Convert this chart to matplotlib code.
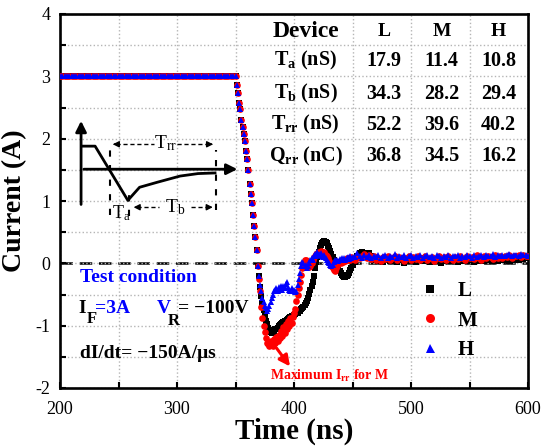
import numpy as np
import matplotlib
matplotlib.use('Agg')
import matplotlib.pyplot as plt
from matplotlib.ticker import MultipleLocator

plt.rcParams['font.family'] = ['Liberation Serif', 'DejaVu Serif']
plt.rcParams['mathtext.fontset'] = 'custom'
plt.rcParams['mathtext.default'] = 'regular'
plt.rcParams['axes.unicode_minus'] = False

# ---- data ----
flat_level = 3.0
t_flat = list(range(200, 350, 2))
t_fall = list(range(350, 451))
t_tail = list(range(452, 601, 2))

# common fall 350..368 ns
drop = [3.0, 2.86, 2.73, 2.57, 2.47, 2.3, 2.18, 2.07, 1.97, 1.80,
        1.67, 1.49, 1.28, 1.12, 0.96, 0.77, 0.6, 0.42, 0.22]

# 369..450 ns
L_fall = [-0.05, -0.2, -0.38, -0.52, -0.64, -0.75, -0.84, -0.92, -0.98, -1.03,
          -1.07, -1.10, -1.12, -1.10, -1.08, -1.06, -1.05, -1.03, -1.01, -0.99,
          -0.97, -0.96, -0.94, -0.93, -0.92, -0.91, -0.90, -0.88, -0.86, -0.85,
          -0.84, -0.83, -0.82, -0.80, -0.79, -0.77, -0.76, -0.74, -0.72, -0.70,
          -0.67, -0.64, -0.60, -0.55, -0.49, -0.43, -0.37, -0.3, -0.2, -0.08,
          0.02, 0.1, 0.18, 0.24, 0.29, 0.32, 0.35, 0.36, 0.35, 0.32,
          0.28, 0.24, 0.2, 0.15, 0.1, 0.05, 0.01, -0.03, -0.07, -0.1,
          -0.13, -0.16, -0.18, -0.2, -0.22, -0.22, -0.21, -0.18, -0.15, -0.11,
          -0.07, -0.03]
M_fall = [-0.05, -0.25, -0.45, -0.7, -0.88, -1.0, -1.1, -1.2, -1.28, -1.3,
          -1.32, -1.25, -1.3, -1.33, -1.22, -1.28, -1.18, -1.25, -1.15, -1.2,
          -1.08, -1.17, -1.02, -1.12, -0.98, -1.05, -0.92, -1.0, -0.88, -0.95,
          -0.86, -0.8, -0.74, -0.6, -0.5, -0.4, -0.3, -0.18, -0.08, 0.0,
          0.06, 0.05, 0.02, -0.03, -0.06, -0.04, 0.0, 0.06, 0.1, 0.12,
          0.15, 0.17, 0.18, 0.16, 0.19, 0.17, 0.15, 0.18, 0.14, 0.12,
          0.08, 0.04, 0.0, -0.04, -0.08, -0.1, -0.12, -0.08, -0.04, 0.0,
          0.03, 0.0, 0.05, 0.02, 0.06, 0.04, 0.08, 0.05, 0.09, 0.06,
          0.1, 0.07]
H_fall = [-0.05, -0.2, -0.35, -0.45, -0.55, -0.62, -0.68, -0.72, -0.76, -0.74,
          -0.68, -0.62, -0.56, -0.5, -0.45, -0.42, -0.4, -0.44, -0.38, -0.41,
          -0.36, -0.42, -0.37, -0.40, -0.33, -0.30, -0.38, -0.42, -0.44, -0.40,
          -0.45, -0.42, -0.46, -0.44, -0.35, -0.25, -0.15, -0.05, 0.02, 0.0,
          -0.05, -0.03, -0.08, -0.05, 0.0, 0.05, 0.08, 0.05, 0.12, 0.15,
          0.12, 0.18, 0.15, 0.14, 0.16, 0.12, 0.1, 0.14, 0.08, 0.05,
          0.02, 0.0, -0.03, -0.05, -0.02, 0.02, 0.05, 0.03, 0.06, 0.04,
          0.07, 0.05, 0.08, 0.06, 0.09, 0.05, 0.08, 0.1, 0.07, 0.12,
          0.08, 0.1]

# 452..600 ns
L_tail = [0.02, 0.12, 0.16, 0.18, 0.17, 0.15, 0.16, 0.12, 0.08, 0.05,
          0.03, 0.06, 0.02, 0.05, 0.07, 0.03, 0.04, 0.08, 0.02, 0.05,
          0.06, 0.01, 0.04, 0.07, 0.03, 0.05, 0.02, 0.06, 0.08, 0.03,
          0.04, 0.06, 0.02, 0.05, 0.07, 0.03, 0.05, 0.01, 0.06, 0.04,
          0.07, 0.03, 0.05, 0.08, 0.02, 0.06, 0.04, 0.07, 0.03, 0.05,
          0.06, 0.02, 0.07, 0.04, 0.08, 0.03, 0.06, 0.05, 0.09, 0.04,
          0.07, 0.03, 0.06, 0.08, 0.05, 0.09, 0.04, 0.07, 0.06, 0.10,
          0.05, 0.08, 0.07, 0.10, 0.08]
M_tail = [0.06, 0.1, 0.08, 0.12, 0.15, 0.09, 0.13, 0.07, 0.11, 0.06,
          0.09, 0.04, 0.1, 0.07, 0.12, 0.05, 0.09, 0.11, 0.06, 0.1,
          0.08, 0.03, 0.09, 0.12, 0.06, 0.1, 0.07, 0.11, 0.05, 0.09,
          0.12, 0.06, 0.08, 0.1, 0.04, 0.09, 0.11, 0.07, 0.1, 0.06,
          0.12, 0.08, 0.05, 0.1, 0.07, 0.11, 0.09, 0.06, 0.12, 0.08,
          0.1, 0.07, 0.13, 0.09, 0.06, 0.11, 0.08, 0.12, 0.1, 0.07,
          0.13, 0.09, 0.11, 0.08, 0.12, 0.1, 0.14, 0.09, 0.12, 0.11,
          0.13, 0.1, 0.14, 0.12, 0.11]
H_tail = [0.1, 0.16, 0.12, 0.09, 0.13, 0.1, 0.14, 0.08, 0.12, 0.1,
          0.13, 0.09, 0.11, 0.14, 0.08, 0.12, 0.1, 0.15, 0.09, 0.12,
          0.1, 0.13, 0.08, 0.11, 0.14, 0.09, 0.12, 0.1, 0.13, 0.08,
          0.11, 0.14, 0.1, 0.12, 0.09, 0.13, 0.11, 0.08, 0.12, 0.1,
          0.14, 0.09, 0.12, 0.11, 0.13, 0.08, 0.12, 0.1, 0.14, 0.11,
          0.09, 0.13, 0.1, 0.12, 0.14, 0.1, 0.13, 0.11, 0.12, 0.15,
          0.1, 0.13, 0.12, 0.14, 0.11, 0.13, 0.15, 0.12, 0.14, 0.13,
          0.12, 0.15, 0.13, 0.14, 0.12]

# table
devices = ['L', 'M', 'H']
row_labels = ['T$_\\mathregular{a}$ (nS)', 'T$_\\mathregular{b}$ (nS)',
              'T$_\\mathregular{rr}$ (nS)', 'Q$_\\mathregular{rr}$ (nC)']
table_vals = [['17.9', '11.4', '10.8'],
              ['34.3', '28.2', '29.4'],
              ['52.2', '39.6', '40.2'],
              ['36.8', '34.5', '16.2']]

# inset sketch of the recovery waveform (data units of the main axes)
sketch_x = [219, 230, 258, 268, 283, 302.6, 318, 332.5]
sketch_y = [1.88, 1.88, 1.01, 1.22, 1.30, 1.40, 1.44, 1.45]

t_all = t_flat + t_fall + t_tail
nf = len(t_flat)
L = [flat_level] * nf + drop + L_fall + L_tail
M = [flat_level] * nf + drop + M_fall + M_tail
H = [flat_level] * nf + drop + H_fall + H_tail

fig = plt.figure(figsize=(5.55, 4.46), dpi=100)
ax = fig.add_axes([60/555, 1-388/446, 468/555, 374/446])

ax.axhline(0, color='k', lw=1.8, ls=(0, (5, 2.7)), zorder=1)
ax.plot(t_all, L, 's', color='k', ms=4.2, mew=0, label='L', zorder=3)
ax.plot(t_all, M, 'o', color='red', ms=4.8, mew=0, label='M', zorder=4)
ax.plot(t_all, H, '^', color='blue', ms=4.8, mew=0, label='H', zorder=5)

ax.set_xlim(200, 600)
ax.set_ylim(-2, 4)
ax.xaxis.set_major_locator(MultipleLocator(100))
ax.xaxis.set_minor_locator(MultipleLocator(50))
ax.yaxis.set_major_locator(MultipleLocator(1))
ax.yaxis.set_minor_locator(MultipleLocator(0.5))
ax.grid(which='both', color='#b5b5b5', ls=':', lw=1.0, zorder=0)
ax.tick_params(which='both', direction='in', length=4, width=1.5)
ax.tick_params(axis='x', which='both', pad=9, labelsize=13)
ax.tick_params(axis='y', which='both', pad=7, labelsize=13)
for s in ax.spines.values():
    s.set_linewidth(1.9)

ax.set_xlabel('Time (ns)', fontsize=21, fontweight='bold', labelpad=0)
ax.set_ylabel('Current (A)', fontsize=20, fontweight='bold', labelpad=6)

leg = ax.legend(loc='upper left', bbox_to_anchor=(0.768, 0.285), frameon=False,
                borderpad=0, borderaxespad=0, handlelength=1.0, handletextpad=0.85,
                labelspacing=0.45, markerscale=1.35,
                prop={'size': 15, 'weight': 'bold'})

# table text
col_x = [477, 526, 575]
row_y = [3.25, 2.72, 2.22, 1.72]
ax.text(410, 3.72, 'Device', fontsize=17, fontweight='bold', ha='center', va='center')
for cx, d in zip(col_x, devices):
    ax.text(cx, 3.72, d, fontsize=14, fontweight='bold', ha='center', va='center')
for ry, lab, vals in zip(row_y, row_labels, table_vals):
    ax.text(410, ry, lab, fontsize=14.5, fontweight='bold', ha='center', va='center')
    for cx, v in zip(col_x, vals):
        ax.text(cx, ry, v, fontsize=14.5, fontweight='bold', ha='center', va='center')

# test condition text
ax.text(217, -0.22, 'Test condition', fontsize=14, fontweight='bold', color='blue', va='center')
ax.text(215.4, -0.72, 'I', fontsize=14, fontweight='bold', color='k', va='center')
ax.text(222.5, -0.9, 'F', fontsize=12, fontweight='bold', color='k', va='center')
ax.text(229.5, -0.72, '=3A', fontsize=14, fontweight='bold', color='blue', va='center')
ax.text(283, -0.72, 'V', fontsize=14, fontweight='bold', color='blue', va='center')
ax.text(292, -0.92, 'R', fontsize=12, fontweight='bold', color='k', va='center')
ax.text(301, -0.72, '= \u2212100V', fontsize=14, fontweight='bold', color='k', va='center')
ax.text(217, -1.44, 'dI/dt= \u2212150A/\u03bcs', fontsize=14, fontweight='bold', color='k', va='center')

# maximum Irr annotation
ax.annotate('', xy=(398, -1.69), xytext=(383.5, -1.32),
            arrowprops=dict(arrowstyle='-|>', color='red', lw=2.2, mutation_scale=16))
ax.text(379.5, -1.8, 'Maximum I$_\\mathregular{rr}$ for M', fontsize=10, fontweight='bold',
        color='red', va='center')

# inset sketch
ax.annotate('', xy=(218, 2.33), xytext=(218, 0.9),
            arrowprops=dict(arrowstyle='-|>', color='k', lw=2, mutation_scale=16))
ax.annotate('', xy=(354, 1.51), xytext=(218, 1.51),
            arrowprops=dict(arrowstyle='-|>', color='k', lw=2, mutation_scale=16))
ax.plot(sketch_x, sketch_y, color='k', lw=2, zorder=6)
dash = (0, (3, 4))
ax.plot([242.7, 242.7], [0.78, 1.82], color='k', lw=1.5, ls=dash)
ax.plot([259, 259], [0.76, 1.22], color='k', lw=1.5, ls=dash)
ax.plot([333.3, 333.3], [0.85, 1.82], color='k', lw=1.5, ls=dash)
# Trr arrows
ax.plot([248, 280], [1.91, 1.91], color='k', lw=1, ls=(0, (3, 2)))
ax.plot([300, 327], [1.91, 1.91], color='k', lw=1, ls=(0, (3, 2)))
ax.annotate('', xy=(242.7, 1.91), xytext=(250, 1.91),
            arrowprops=dict(arrowstyle='-|>', color='k', lw=1, mutation_scale=9))
ax.annotate('', xy=(333.3, 1.91), xytext=(326, 1.91),
            arrowprops=dict(arrowstyle='-|>', color='k', lw=1, mutation_scale=9))
ax.text(290.6, 1.93, 'T$_\\mathregular{rr}$', fontsize=14, ha='center', va='center')
# Tb arrows
ax.plot([266, 285], [0.9, 0.9], color='k', lw=1, ls=(0, (3, 2)))
ax.plot([312, 327], [0.9, 0.9], color='k', lw=1, ls=(0, (3, 2)))
ax.annotate('', xy=(260.5, 0.9), xytext=(268, 0.9),
            arrowprops=dict(arrowstyle='-|>', color='k', lw=1, mutation_scale=9))
ax.annotate('', xy=(333, 0.9), xytext=(325, 0.9),
            arrowprops=dict(arrowstyle='-|>', color='k', lw=1, mutation_scale=9))
ax.text(298.5, 0.9, 'T$_\\mathregular{b}$', fontsize=14, ha='center', va='center')
ax.text(244.2, 0.8, 'T$_\\mathregular{a}$', fontsize=13, ha='left', va='center')

fig.savefig('out.png', dpi=100)
